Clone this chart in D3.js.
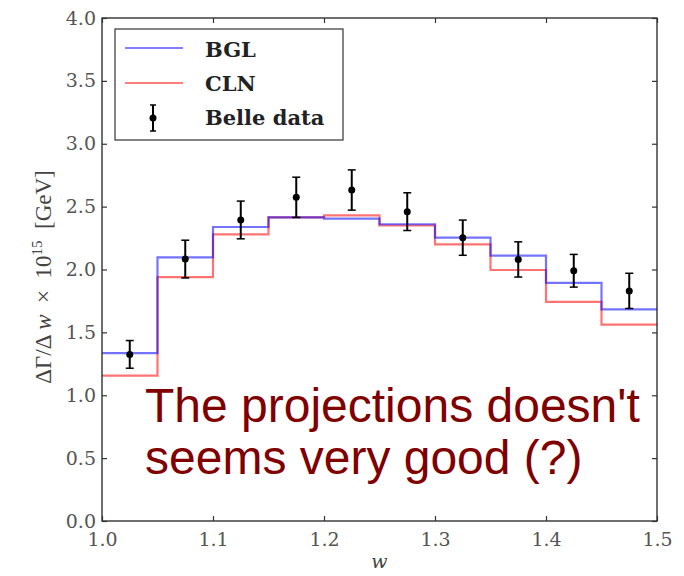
<!DOCTYPE html>
<html>
<head>
<meta charset="utf-8">
<script src="https://cdn.jsdelivr.net/npm/d3@7"></script>
<style>
  body { margin: 0; background: #fff; }
  svg { display: block; }
</style>
</head>
<body>
<div id="chart"></div>
<script>
// bin edges in w
const binEdges = [1.0, 1.05, 1.1, 1.15, 1.2, 1.25, 1.3, 1.35, 1.4, 1.45, 1.5];
// predicted dGamma/dw per bin
const bglValues = [1.335, 2.097, 2.338, 2.415, 2.404, 2.36, 2.253, 2.11, 1.893, 1.683];
const clnValues = [1.156, 1.94, 2.28, 2.415, 2.43, 2.35, 2.20, 1.996, 1.742, 1.561];
// Belle data points
const dataW = [1.025, 1.075, 1.125, 1.175, 1.225, 1.275, 1.325, 1.375, 1.425, 1.475];
const dataY = [1.325, 2.083, 2.394, 2.574, 2.632, 2.46, 2.253, 2.08, 1.99, 1.83];
const dataErr = [0.11, 0.15, 0.15, 0.16, 0.16, 0.15, 0.14, 0.14, 0.13, 0.14];
const xTicks = [1.0, 1.1, 1.2, 1.3, 1.4, 1.5];
const yTicks = [0.0, 0.5, 1.0, 1.5, 2.0, 2.5, 3.0, 3.5, 4.0];

const W = 684, H = 576;
const PLOT = { LEFT: 102, RIGHT: 657, TOP: 18, BOTTOM: 521 };

const svg = d3.select("#chart").append("svg")
    .attr("width", W)
    .attr("height", H);

const x = d3.scaleLinear().domain([1.0, 1.5]).range([PLOT.LEFT, PLOT.RIGHT]);
const y = d3.scaleLinear().domain([0, 4]).range([PLOT.BOTTOM, PLOT.TOP]);

// step histograms
function stepPoints(vals) {
    const pts = [];
    vals.forEach((v, i) => {
        pts.push([binEdges[i], v]);
        pts.push([binEdges[i + 1], v]);
    });
    return pts;
}
const line = d3.line().x(d => x(d[0])).y(d => y(d[1]));

svg.append("path")
    .attr("d", line(stepPoints(clnValues)))
    .attr("fill", "none")
    .attr("stroke", "#ff0000")
    .attr("stroke-opacity", 0.55)
    .attr("stroke-width", 2.2);

svg.append("path")
    .attr("d", line(stepPoints(bglValues)))
    .attr("fill", "none")
    .attr("stroke", "#0000ff")
    .attr("stroke-opacity", 0.55)
    .attr("stroke-width", 2.2);

// error bars
const pts = svg.append("g");
dataW.forEach((w, i) => {
    const cx = x(w);
    const top = y(dataY[i] + dataErr[i]);
    const bot = y(dataY[i] - dataErr[i]);
    pts.append("line").attr("x1", cx).attr("x2", cx).attr("y1", top).attr("y2", bot)
        .attr("stroke", "#000").attr("stroke-width", 2);
    [top, bot].forEach(yy => {
        pts.append("line").attr("x1", cx - 4).attr("x2", cx + 4).attr("y1", yy).attr("y2", yy)
            .attr("stroke", "#000").attr("stroke-width", 1.5);
    });
    pts.append("circle").attr("cx", cx).attr("cy", y(dataY[i])).attr("r", 3.5).attr("fill", "#000");
});

// frame
svg.append("rect")
    .attr("x", PLOT.LEFT).attr("y", PLOT.TOP)
    .attr("width", PLOT.RIGHT - PLOT.LEFT).attr("height", PLOT.BOTTOM - PLOT.TOP)
    .attr("fill", "none").attr("stroke", "#222").attr("stroke-width", 1.3);

// axes with inward ticks
const axB = svg.append("g").attr("transform", `translate(0,${PLOT.BOTTOM})`)
    .call(d3.axisBottom(x).tickValues(xTicks).tickSize(-5).tickPadding(12).tickFormat(d3.format(".1f")));
const axT = svg.append("g").attr("transform", `translate(0,${PLOT.TOP})`)
    .call(d3.axisTop(x).tickValues(xTicks).tickSize(-5).tickFormat(""));
const axL = svg.append("g").attr("transform", `translate(${PLOT.LEFT},0)`)
    .call(d3.axisLeft(y).tickValues(yTicks).tickSize(-5).tickPadding(6).tickFormat(d3.format(".1f")));
const axR = svg.append("g").attr("transform", `translate(${PLOT.RIGHT},0)`)
    .call(d3.axisRight(y).tickValues(yTicks).tickSize(-5).tickFormat(""));

[axB, axT, axL, axR].forEach(a => {
    a.select(".domain").remove();
    a.selectAll(".tick line").attr("stroke", "#333").attr("stroke-width", 1.2);
    a.selectAll("text")
        .attr("font-family", "'DejaVu Serif', serif")
        .attr("font-size", 19)
        .attr("fill", "#555");
});

// legend
const leg = svg.append("g");
leg.append("rect").attr("x", 115).attr("y", 29).attr("width", 228).attr("height", 111)
    .attr("fill", "#fff").attr("stroke", "#333").attr("stroke-width", 1.2);
leg.append("line").attr("x1", 125).attr("x2", 183).attr("y1", 48).attr("y2", 48)
    .attr("stroke", "#0000ff").attr("stroke-opacity", 0.5).attr("stroke-width", 2);
leg.append("line").attr("x1", 125).attr("x2", 183).attr("y1", 83).attr("y2", 83)
    .attr("stroke", "#ff0000").attr("stroke-opacity", 0.5).attr("stroke-width", 2);
leg.append("line").attr("x1", 153).attr("x2", 153).attr("y1", 105).attr("y2", 131)
    .attr("stroke", "#000").attr("stroke-width", 2);
[105, 131].forEach(yy => leg.append("line").attr("x1", 150).attr("x2", 156).attr("y1", yy).attr("y2", yy)
    .attr("stroke", "#000").attr("stroke-width", 1.5));
leg.append("circle").attr("cx", 153).attr("cy", 118).attr("r", 3.5).attr("fill", "#000");
const legText = [["BGL", 57], ["CLN", 91], ["Belle data", 125]];
legText.forEach(([t, yy]) => {
    leg.append("text").attr("x", 205).attr("y", yy).text(t)
        .attr("font-family", "'DejaVu Serif', serif")
        .attr("font-weight", "bold")
        .attr("font-size", 21)
        .attr("fill", "#222");
});

// axis labels
svg.append("text")
    .attr("x", (PLOT.LEFT + PLOT.RIGHT) / 2).attr("y", 568)
    .attr("text-anchor", "middle")
    .attr("font-family", "'DejaVu Serif', serif")
    .attr("font-style", "italic")
    .attr("font-size", 19)
    .attr("fill", "#444")
    .text("w");

const yl = svg.append("text")
    .attr("transform", "translate(51,277) rotate(-90)")
    .attr("text-anchor", "middle")
    .attr("font-family", "'Liberation Serif', serif")
    .attr("font-size", 23)
    .attr("fill", "#444");
yl.append("tspan").text("ΔΓ/Δ\u2009");
yl.append("tspan").attr("font-style", "italic").text("w");
yl.append("tspan").text("\u2002×\u200210");
yl.append("tspan").attr("font-size", 15).attr("dy", -9).text("15");
yl.append("tspan").attr("dy", 9).text("\u2002[GeV]");

// annotation
const note = svg.append("text")
    .attr("font-family", "'Liberation Sans', Arial, sans-serif")
    .attr("font-size", 48)
    .attr("fill", "#800000");
note.append("tspan").attr("x", 145).attr("y", 422).text("The projections doesn't");
note.append("tspan").attr("x", 145).attr("y", 474).text("seems very good (?)");
</script>
</body>
</html>
